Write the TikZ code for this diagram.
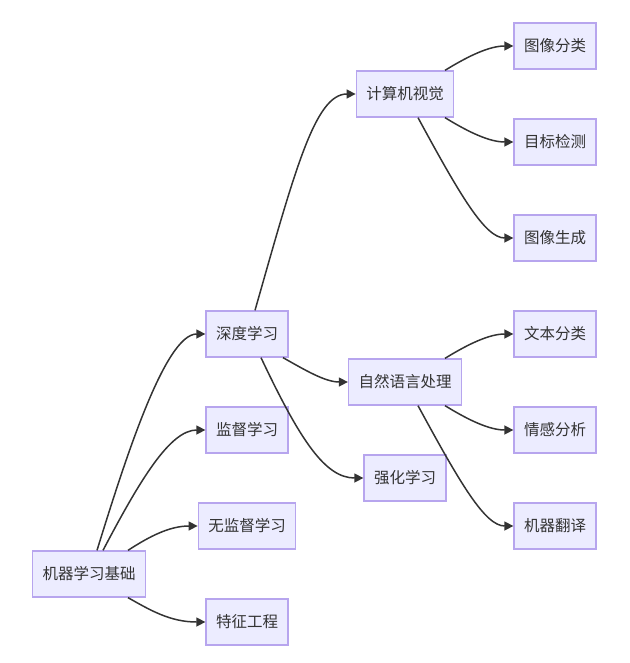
\documentclass[tikz,border=0pt]{standalone}
\usepackage{fontspec}
\newfontfamily\cjk{Noto Sans CJK SC}
\usetikzlibrary{arrows.meta}
\definecolor{fond}{HTML}{ECECFF}
\definecolor{bord}{HTML}{B7A5EE}
\definecolor{trait}{HTML}{333333}

\begin{document}
\begin{tikzpicture}[x=1pt,y=-1pt]
  \tikzstyle{boite}=[draw=bord,fill=fond,line width=1.3pt,minimum height=46pt,inner xsep=10pt,font=\cjk\fontsize{15.5}{16}\selectfont,text=trait]
  \tikzstyle{fleche}=[draw=trait,line width=1.5pt,-{Triangle[length=9pt,width=9pt]}]
  \useasboundingbox (0,0) rectangle (629,663);
  % Racine
  \node[boite] (ml) at (89,574) {机器学习基础};
  % Niveau 1
  \node[boite] (dl)    at (247,334) {深度学习};
  \node[boite] (sup)   at (247,430) {监督学习};
  \node[boite] (unsup) at (247,526) {无监督学习};
  \node[boite] (feat)  at (247,622) {特征工程};
  % Niveau 2
  \node[boite] (cv)  at (405,94)  {计算机视觉};
  \node[boite] (nlp) at (405,382) {自然语言处理};
  \node[boite] (rl)  at (405,478) {强化学习};
  % Feuilles
  \node[boite] (cls)   at (555,46)  {图像分类};
  \node[boite] (det)   at (555,142) {目标检测};
  \node[boite] (gen)   at (555,238) {图像生成};
  \node[boite] (txt)   at (555,334) {文本分类};
  \node[boite] (sent)  at (555,430) {情感分析};
  \node[boite] (trans) at (555,526) {机器翻译};
  % Liens depuis la racine
  \draw[fleche] ([xshift=8]ml.north) .. controls (125,460) and (165,334) .. (dl.west);
  \draw[fleche] ([xshift=14]ml.north) .. controls (140,480) and (170,430) .. (sup.west);
  \draw[fleche] ([xshift=39]ml.north) .. controls (150,536) and (170,526) .. (unsup.west);
  \draw[fleche] ([xshift=39]ml.south) .. controls (150,610) and (170,622) .. (feat.west);
  % Liens depuis deep learning
  \draw[fleche] ([xshift=8]dl.north) .. controls (295,170) and (315,94) .. (cv.west);
  \draw[fleche] ([xshift=36]dl.south) .. controls (305,370) and (325,382) .. (nlp.west);
  \draw[fleche] ([xshift=14]dl.south) .. controls (300,440) and (325,478) .. (rl.west);
  % Vision
  \draw[fleche] ([xshift=40]cv.north) .. controls (470,55) and (490,46) .. (cls.west);
  \draw[fleche] ([xshift=40]cv.south) .. controls (470,133) and (490,142) .. (det.west);
  \draw[fleche] ([xshift=13]cv.south) .. controls (460,195) and (485,238) .. (gen.west);
  % Langage
  \draw[fleche] ([xshift=40]nlp.north) .. controls (470,343) and (490,334) .. (txt.west);
  \draw[fleche] ([xshift=40]nlp.south) .. controls (470,421) and (490,430) .. (sent.west);
  \draw[fleche] ([xshift=13]nlp.south) .. controls (460,483) and (485,526) .. (trans.west);
\end{tikzpicture}
\end{document}
